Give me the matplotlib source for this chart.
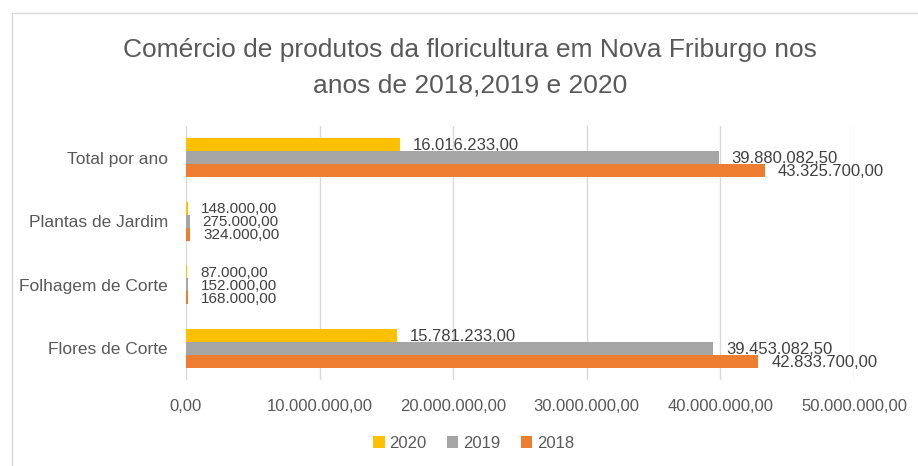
import numpy as np
import matplotlib.pyplot as plt
from matplotlib.patches import Rectangle

plt.rcParams['font.family'] = ['Liberation Sans', 'DejaVu Sans']

# dados
categorias = ['Flores de Corte', 'Folhagem de Corte', 'Plantas de Jardim', 'Total por ano']
anos = ['2020', '2019', '2018']
v2020 = [15781233.00, 87000.00, 148000.00, 16016233.00]
v2019 = [39453082.50, 152000.00, 275000.00, 39880082.50]
v2018 = [42833700.00, 168000.00, 324000.00, 43325700.00]
xticks = [0, 10000000, 20000000, 30000000, 40000000, 50000000]

cores = {'2020': '#FFC000', '2019': '#A5A5A5', '2018': '#ED7D31'}
texto = '#595959'


def br(v):
    s = f'{v:,.2f}'
    return s.replace(',', 'X').replace('.', ',').replace('X', '.')


fig = plt.figure(figsize=(9.18, 4.66), dpi=100)
fig.patches.append(Rectangle((12 / 918, -0.1), 1.0, 1 - 13 / 466 + 0.1, transform=fig.transFigure,
                             fill=False, edgecolor='#d9d9d9', linewidth=1))
ax = fig.add_axes([186 / 918, 1 - 380 / 466, 668 / 918, 254 / 466])

y = np.arange(len(categorias))
h = 0.205
series = [('2020', v2020, h), ('2019', v2019, 0), ('2018', v2018, -h)]
for ano, vals, off in series:
    bars = ax.barh(y + off, vals, height=h, color=cores[ano], label=ano, zorder=3)
    for b, v in zip(bars, vals):
        # rótulos das barras pequenas ficam empilhados, fonte um pouco menor
        fs = 12 if v > 1000000 else 11
        ax.annotate(br(v), (b.get_width(), b.get_y() + b.get_height() / 2),
                    xytext=(13, -1), textcoords='offset pixels',
                    va='center', ha='left', fontsize=fs, color='#404040')

ax.set_xlim(0, 50000000)
ax.set_ylim(-0.5, len(categorias) - 0.5)
ax.set_xticks(xticks)
ax.set_xticklabels([br(t) for t in xticks], fontsize=12, color=texto)
ax.set_yticks(y)
ax.set_yticklabels(categorias, fontsize=12.5, color=texto)
ax.tick_params(axis='both', length=0)
ax.tick_params(axis='x', pad=14)
ax.tick_params(axis='y', pad=13)
ax.grid(axis='x', color='#d9d9d9', linewidth=1, zorder=0)
for s in ax.spines.values():
    s.set_visible(False)

fig.text(0.512, 1 - 50 / 466, 'Comércio de produtos da floricultura em Nova Friburgo nos',
         ha='center', va='center', fontsize=19, color=texto)
fig.text(0.512, 1 - 85 / 466, 'anos de 2018,2019 e 2020',
         ha='center', va='center', fontsize=19, color=texto)

fig.legend(loc='center', bbox_to_anchor=(0.516, 1 - 443 / 466), ncol=3, frameon=False,
           fontsize=12, handlelength=0.7, handleheight=0.7, handletextpad=0.3,
           columnspacing=1.2, labelcolor=texto)

fig.savefig('out.png', dpi=100)
